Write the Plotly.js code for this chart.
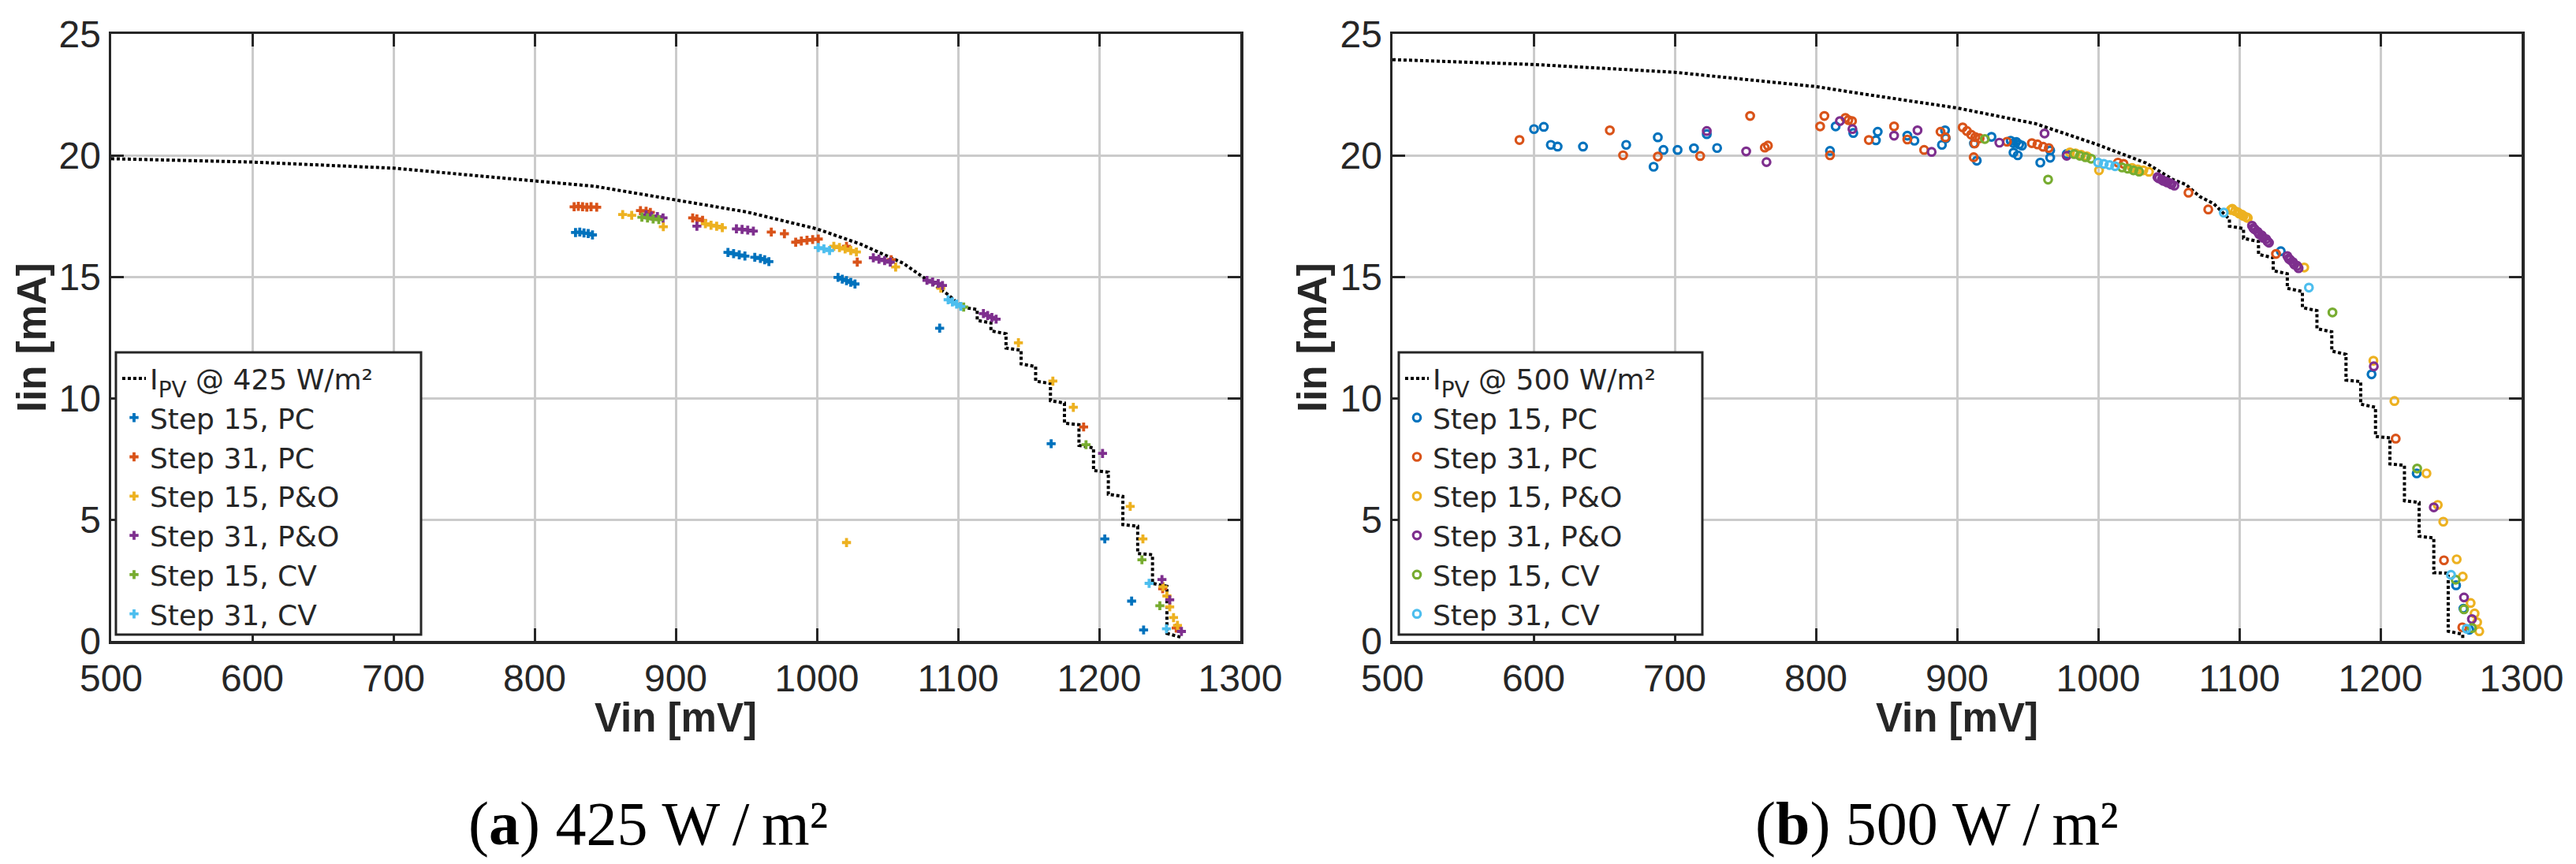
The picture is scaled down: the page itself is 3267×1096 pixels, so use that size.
<!DOCTYPE html>
<html>
<head>
<meta charset="utf-8">
<script src="https://cdn.plot.ly/plotly-3.0.1.min.js"></script>
<style>
  html, body { margin: 0; padding: 0; background: #fff; }
  #chart { width: 3267px; height: 1096px; }
</style>
</head>
<body>
<div id="chart"></div>
<script>
// ---- data ----
const xTicks = [500, 600, 700, 800, 900, 1000, 1100, 1200, 1300];
const yTicks = [0, 5, 10, 15, 20, 25];

const seriesNames = ['Step 15, PC', 'Step 31, PC', 'Step 15, P&O', 'Step 31, P&O', 'Step 15, CV', 'Step 31, CV'];
const seriesColors = ['#0072BD', '#D95319', '#EDB120', '#7E2F8E', '#77AC30', '#4DBEEE'];

// (a) 425 W/m2 : PV curve, smooth part then staircase
const aCurveV = [500, 600, 700, 779, 800, 843, 900, 950, 1000, 1031, 1061, 1093, 1103];
const aCurveI = [19.86, 19.72, 19.47, 19.05, 18.95, 18.72, 18.16, 17.67, 16.97, 16.34, 15.56, 14.26, 13.74];
const aStepV = [1113.6, 1123.3, 1134, 1144.7, 1155, 1165.5, 1175.4, 1185.7, 1196, 1206.5, 1216.8, 1227.3, 1237.8, 1248, 1258];
const aStepTop = [13.65, 13.1, 12.65, 11.97, 11.3, 10.6, 9.8, 8.9, 7.95, 6.95, 5.95, 4.72, 3.55, 2.25, 0.15];
const aStepBot = [13.2, 12.77, 12.06, 11.41, 10.7, 9.89, 8.97, 8.05, 7.02, 6.04, 4.79, 3.6, 2.37, 0.31, 0.1];

const aPc15V = [829, 832, 835, 838, 841, 937, 941, 945, 949, 956, 960, 963, 966, 1015, 1018, 1021, 1024, 1027, 1087, 1166, 1204, 1223, 1231.5];
const aPc15I = [16.82, 16.84, 16.8, 16.78, 16.72, 16.0, 15.95, 15.9, 15.85, 15.8, 15.75, 15.7, 15.62, 14.97, 14.9, 14.84, 14.77, 14.7, 12.88, 8.12, 4.2, 1.64, 0.45];
const aPc31V = [828, 831, 834, 837, 840, 844, 875, 879, 882, 912, 915, 919, 967.7, 977, 985, 989, 993, 997, 1001, 1021, 1028.6, 1052.6, 1189, 1245, 1254.6];
const aPc31I = [17.88, 17.9, 17.88, 17.86, 17.88, 17.86, 17.72, 17.7, 17.65, 17.42, 17.38, 17.32, 16.84, 16.77, 16.42, 16.47, 16.5, 16.53, 16.55, 16.25, 15.6, 15.7, 8.81, 2.15, 0.53];
const aPo15V = [862.4, 868.8, 891.2, 921, 925, 929, 933, 1012, 1016, 1020, 1024, 1028, 1055.8, 1087.8, 1142.8, 1167.2, 1181.7, 1222, 1231, 1021, 1245.3, 1248, 1250, 1252.7, 1255.5];
const aPo15I = [17.56, 17.53, 17.06, 17.18, 17.12, 17.08, 17.02, 16.25, 16.2, 16.14, 16.08, 16.02, 15.4, 14.53, 12.28, 10.7, 9.62, 5.54, 4.2, 4.05, 2.23, 1.85, 1.4, 0.96, 0.64];
const aPo31V = [879, 883, 887, 891, 915, 943, 947, 951, 955, 1040, 1044, 1048, 1052, 1078, 1082, 1086, 1089, 1118, 1121, 1124, 1127, 1202.4, 1244.5, 1250, 1258.3];
const aPo31I = [17.55, 17.5, 17.48, 17.42, 17.08, 16.97, 16.95, 16.92, 16.88, 15.78, 15.72, 15.66, 15.6, 14.85, 14.78, 14.72, 14.64, 13.48, 13.4, 13.32, 13.25, 7.72, 2.53, 1.69, 0.39];
const aCv15V = [876, 880, 884, 888, 1104, 1190.7, 1230.3, 1243];
const aCv15I = [17.45, 17.42, 17.38, 17.35, 13.75, 8.08, 3.34, 1.45];
const aCv31V = [1001, 1005, 1009, 1093, 1096, 1099, 1102, 1235.4, 1247.7];
const aCv31I = [16.2, 16.15, 16.08, 14.05, 13.96, 13.87, 13.78, 2.37, 0.5];

// (b) 500 W/m2
const bCurveV = [500, 600, 700, 800, 836.5, 900, 955.8, 1000, 1034, 1053, 1062, 1072, 1082];
const bCurveI = [23.94, 23.74, 23.42, 22.83, 22.5, 21.95, 21.3, 20.43, 19.68, 19.0, 18.8, 18.3, 18.0];
const bStepV = [1093, 1103, 1113.6, 1124, 1134, 1144.7, 1155, 1165.5, 1175.6, 1186, 1196.5, 1206.7, 1217, 1227.4, 1237.8, 1248, 1258.3];
const bStepTop = [17.37, 16.98, 16.45, 15.78, 15.12, 14.39, 13.6, 12.73, 11.8, 10.68, 9.62, 8.36, 7.23, 5.7, 4.24, 2.79, 0.27];
const bStepBot = [17.08, 16.58, 15.92, 15.25, 14.52, 13.73, 12.86, 11.94, 10.74, 9.75, 8.42, 7.29, 5.77, 4.31, 2.81, 0.4, 0.07];

const bPc15V = [600.3, 607.2, 612.2, 617, 635, 665.6, 685, 688, 692, 702, 713.6, 722.7, 730, 810, 814, 826.5, 842.5, 843.8, 864.8, 869.8, 889.3, 891.5, 892, 912, 914, 924.4, 938, 940, 942, 944, 946, 940, 943, 959, 966, 966, 977.7, 1129.4, 1193.7, 1225.7, 1253.6, 1258.8, 1263];
const bPc15I = [21.08, 21.17, 20.43, 20.36, 20.36, 20.43, 19.53, 20.74, 20.22, 20.22, 20.29, 20.87, 20.3, 20.18, 21.19, 20.92, 20.62, 20.97, 20.81, 20.6, 20.43, 21.03, 20.7, 20.49, 19.78, 20.76, 20.6, 20.5, 20.55, 20.45, 20.4, 20.11, 20.0, 19.7, 20.2, 19.9, 20.05, 16.05, 10.98, 6.9, 2.29, 1.33, 0.46];
const bPc31V = [590, 654, 663.4, 688, 718, 753.4, 763.8, 766, 803, 806, 810, 820.9, 823, 825.6, 837.5, 855.4, 864.8, 876.7, 888.3, 891.8, 904, 907, 910, 913, 916, 911.8, 912.5, 935.4, 953, 957, 961, 965, 1014, 1018, 1064, 1078, 1126, 1210.8, 1245, 1258];
const bPc31I = [20.63, 21.03, 20.0, 19.95, 19.97, 21.62, 20.32, 20.4, 21.19, 21.62, 20.0, 21.54, 21.45, 21.41, 20.63, 21.19, 20.65, 20.22, 20.97, 20.74, 21.15, 21.0, 20.85, 20.75, 20.7, 19.92, 20.49, 20.56, 20.5, 20.45, 20.35, 20.3, 19.7, 19.65, 18.46, 17.77, 15.94, 8.33, 3.32, 0.56];
const bPo15V = [980, 984, 988, 992, 1000.6, 1024, 1028, 1032, 1036, 1094, 1095, 1097, 1099, 1100, 1102, 1103, 1105, 1106, 1146, 1195, 1209.9, 1232.6, 1240.6, 1244.5, 1254, 1258.3, 1263.9, 1266.7, 1268.5, 1270];
const bPo15I = [20.12, 20.08, 20.02, 19.96, 19.38, 19.48, 19.42, 19.38, 19.32, 17.75, 17.8, 17.7, 17.65, 17.6, 17.55, 17.5, 17.45, 17.42, 15.38, 11.54, 9.88, 6.9, 5.6, 4.91, 3.36, 2.65, 1.56, 1.13, 0.77, 0.4];
const bPo31V = [722.7, 750.6, 765, 817, 825.9, 855.4, 872, 882, 930, 962, 977.7, 1042, 1043, 1045, 1046, 1048, 1049, 1051, 1052, 1054, 1109, 1110, 1111, 1113, 1114, 1116, 1117, 1119, 1120, 1121, 1134, 1135, 1136, 1138, 1139, 1141, 1142, 1195.3, 1237.8, 1259.2, 1264.8];
const bPo31I = [21.0, 20.16, 19.72, 21.41, 21.08, 20.81, 21.03, 20.14, 20.52, 20.9, 19.98, 19.1, 19.05, 19.0, 18.95, 18.92, 18.88, 18.85, 18.8, 18.75, 17.1, 17.0, 16.95, 16.85, 16.75, 16.7, 16.6, 16.55, 16.45, 16.4, 15.85, 15.75, 15.7, 15.6, 15.5, 15.45, 15.35, 11.31, 5.5, 1.79, 0.9];
const bCv15V = [919.7, 964.5, 983, 987, 991, 995, 1017, 1021, 1025, 1029, 1166, 1226, 1253.3, 1259.2, 1264.8];
const bCv15I = [20.67, 19.0, 20.05, 19.98, 19.92, 19.86, 19.5, 19.45, 19.38, 19.33, 13.53, 7.1, 2.52, 1.3, 0.53];
const bCv31V = [1000, 1004, 1008, 1012, 1089, 1149.3, 1250, 1261];
const bCv31I = [19.7, 19.65, 19.6, 19.55, 17.64, 14.55, 2.72, 0.5];

// ---- build traces ----
const W = 3267, H = 1096;

// smooth part followed by the staircase corners
function curvePath(v, i, sv, top, bot) {
    const xs = v.slice(), ys = i.slice();
    for (let k = 0; k < sv.length; k++) {
        xs.push(sv[k], sv[k]);
        ys.push(top[k], bot[k]);
    }
    return { x: xs, y: ys };
}

function makePanel(curve, label, series, xa, ya, legendId, symbol) {
    const traces = [];
    const c = curvePath(curve.v, curve.i, curve.sv, curve.top, curve.bot);
    traces.push({
        x: c.x, y: c.y, xaxis: xa, yaxis: ya, legend: legendId,
        type: 'scatter', mode: 'lines',
        // subscript done with a sized, shifted span
        name: 'I<span style="font-size:28px;baseline-shift:-10px">PV</span> @ ' + label + ' W/m\u00b2',
        line: { color: '#000000', width: 4, dash: '4px,3px' }
    });
    series.forEach(function(s, k) {
        const marker = symbol === 'cross'
            ? { symbol: 'cross', size: 9.5, color: seriesColors[k], line: { width: 0 } }
            : { symbol: 'circle-open', size: 9.5, color: seriesColors[k], line: { width: 3.2, color: seriesColors[k] } };
        traces.push({
            x: s[0], y: s[1], xaxis: xa, yaxis: ya, legend: legendId,
            type: 'scatter', mode: 'markers',
            name: seriesNames[k], marker: marker
        });
    });
    return traces;
}

const data = [].concat(
    makePanel({ v: aCurveV, i: aCurveI, sv: aStepV, top: aStepTop, bot: aStepBot }, '425',
        [[aPc15V, aPc15I], [aPc31V, aPc31I], [aPo15V, aPo15I], [aPo31V, aPo31I], [aCv15V, aCv15I], [aCv31V, aCv31I]],
        'x', 'y', 'legend', 'cross'),
    makePanel({ v: bCurveV, i: bCurveI, sv: bStepV, top: bStepTop, bot: bStepBot }, '500',
        [[bPc15V, bPc15I], [bPc31V, bPc31I], [bPo15V, bPo15I], [bPo31V, bPo31I], [bCv15V, bCv15I], [bCv31V, bCv31I]],
        'x2', 'y2', 'legend2', 'circle')
);

const axisColor = '#262626';
const tickFont = { family: 'Liberation Sans, Arial, sans-serif', size: 48, color: axisColor };
const titleFont = { family: 'Liberation Sans, Arial, sans-serif', size: 51, color: axisColor };

function xAxis(domain, anchor) {
    return {
        domain: domain, anchor: anchor, range: [500, 1300],
        tickvals: xTicks, ticktext: xTicks.map(String),
        ticks: 'inside', ticklen: 16, tickwidth: 3, tickcolor: axisColor,
        showline: true, linecolor: axisColor, linewidth: 3.5, mirror: 'ticks',
        showgrid: true, gridcolor: '#cbcbcb', gridwidth: 3, zeroline: false,
        tickfont: tickFont, ticklabelstandoff: 3
    };
}
function yAxis(domain, anchor) {
    return {
        domain: domain, anchor: anchor, range: [0, 25],
        tickvals: yTicks, ticktext: yTicks.map(String),
        ticks: 'inside', ticklen: 16, tickwidth: 3, tickcolor: axisColor,
        showline: true, linecolor: axisColor, linewidth: 3.5, mirror: 'ticks',
        showgrid: true, gridcolor: '#cbcbcb', gridwidth: 3, zeroline: false,
        tickfont: tickFont
    };
}

// the legend draws its items only; the framed white box behind it is a shape
function legendBox(x) {
    return {
        x: x / W, y: 1 - 450 / H, xanchor: 'left', yanchor: 'top',
        bgcolor: 'rgba(0,0,0,0)', borderwidth: 0,
        font: { family: 'DejaVu Sans, Liberation Sans, sans-serif', size: 36, color: axisColor },
        tracegroupgap: 0
    };
}
function legendFrame(x0, x1) {
    return {
        type: 'rect', xref: 'paper', yref: 'paper', layer: 'above',
        x0: x0 / W, x1: x1 / W, y0: 1 - 805 / H, y1: 1 - 447 / H,
        fillcolor: '#ffffff', line: { color: axisColor, width: 3 }
    };
}

const captionFont = { family: 'Liberation Serif, Times New Roman, serif', size: 78, color: '#000000' };

// axis titles and sub-figure captions, placed in pixels
function label(text, px, py, font, angle) {
    return { xref: 'paper', yref: 'paper', x: px / W, y: 1 - py / H, xanchor: 'center', yanchor: 'middle',
             showarrow: false, font: font, text: text, textangle: angle || 0 };
}

const layout = {
    width: W, height: H,
    margin: { l: 0, r: 0, t: 0, b: 0 },
    paper_bgcolor: '#ffffff', plot_bgcolor: '#ffffff',
    showlegend: true,
    xaxis: xAxis([141 / W, 1573 / W], 'y'),
    yaxis: yAxis([1 - 813 / H, 1 - 43 / H], 'x'),
    xaxis2: xAxis([1766 / W, 3198 / W], 'y2'),
    yaxis2: yAxis([1 - 813 / H, 1 - 43 / H], 'x2'),
    legend: legendBox(150),
    legend2: legendBox(1777),
    shapes: [legendFrame(147, 534), legendFrame(1774, 2159)],
    annotations: [
        label('<b>Vin [mV]</b>', 857, 910, titleFont),
        label('<b>Vin [mV]</b>', 2482, 910, titleFont),
        label('<b>Iin [mA]</b>', 40, 428, titleFont, -90),
        label('<b>Iin [mA]</b>', 1664, 428, titleFont, -90),
        label('(<b>a</b>) 425 W\u2009/\u2009m\u00b2', 822, 1044, captionFont),
        label('(<b>b</b>) 500 W\u2009/\u2009m\u00b2', 2456, 1044, captionFont)
    ]
};

Plotly.newPlot('chart', data, layout, { staticPlot: true });
</script>
</body>
</html>
